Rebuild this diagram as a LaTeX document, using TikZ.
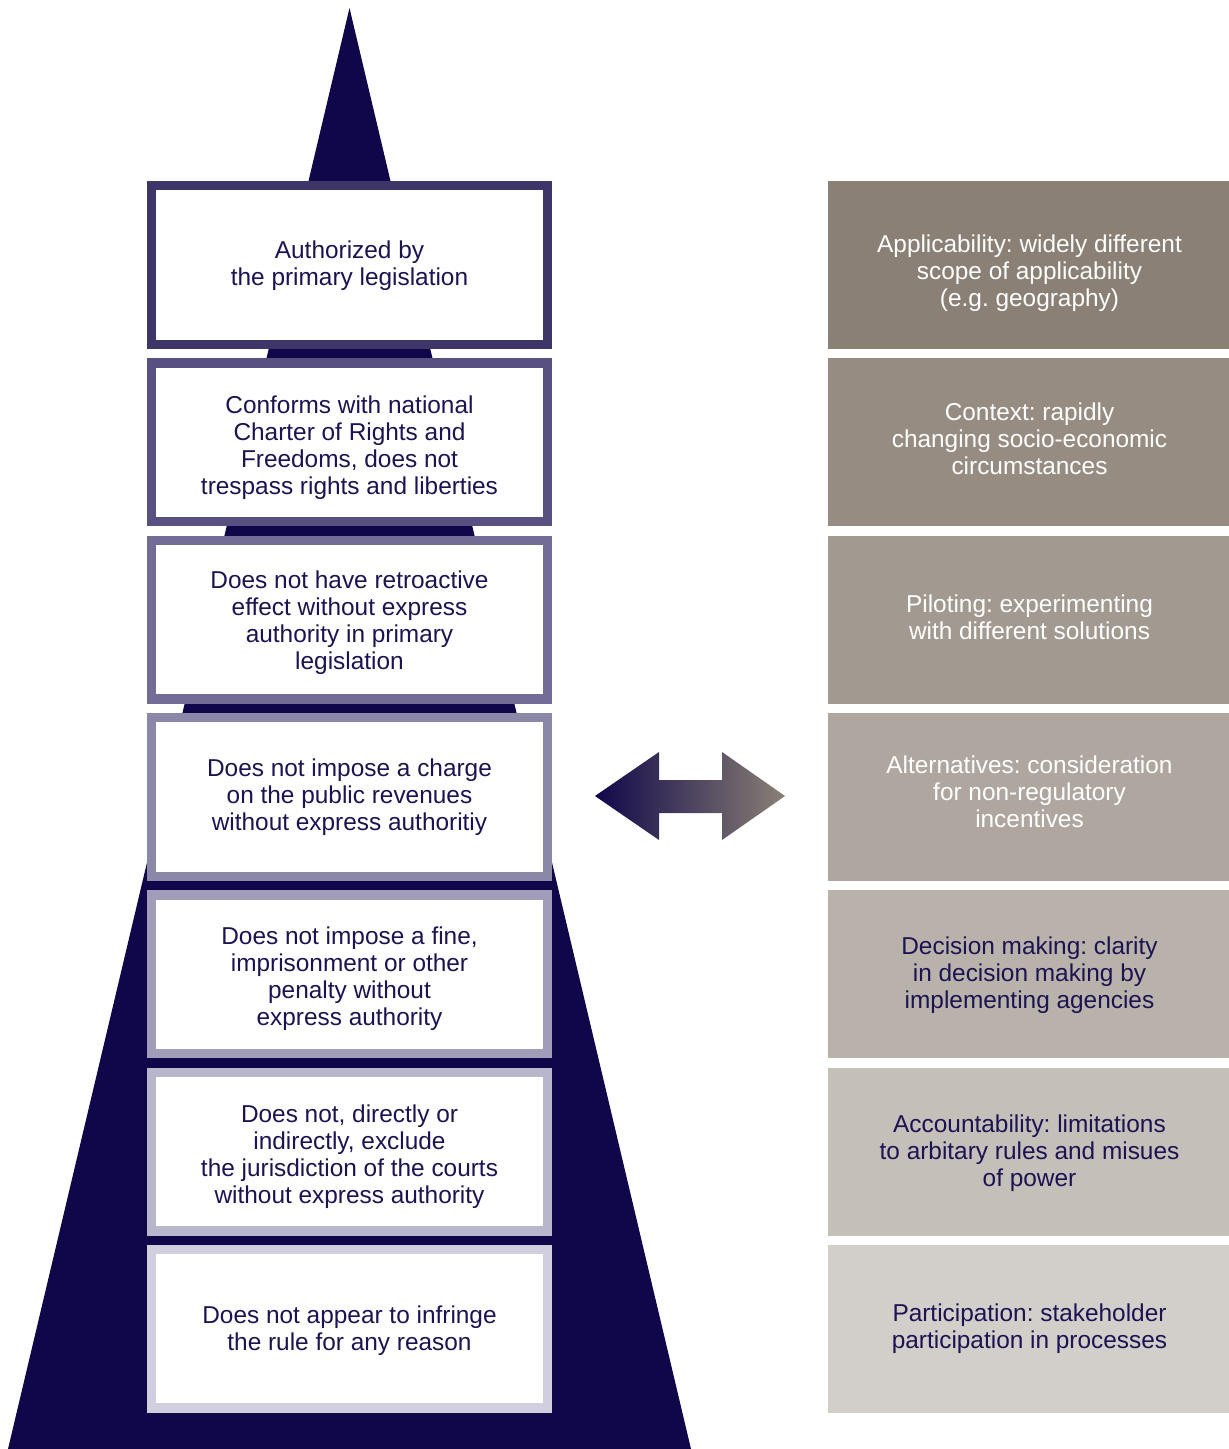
\documentclass[tikz,border=0pt]{standalone}
\usepackage{fontspec}
\setmainfont{Liberation Sans}
\usetikzlibrary{calc}
\frenchspacing

\definecolor{navy}{HTML}{10074A}
\definecolor{ink}{HTML}{1C1352}
\definecolor{rim1}{HTML}{3E3669}
\definecolor{rim2}{HTML}{575080}
\definecolor{rim3}{HTML}{726C96}
\definecolor{rim4}{HTML}{8B87A9}
\definecolor{rim5}{HTML}{A19DB9}
\definecolor{rim6}{HTML}{B8B6CB}
\definecolor{rim7}{HTML}{D1CFDF}
\definecolor{sand1}{HTML}{8A8075}
\definecolor{sand2}{HTML}{968C82}
\definecolor{sand3}{HTML}{A29A91}
\definecolor{sand4}{HTML}{AEA69F}
\definecolor{sand5}{HTML}{B9B2AB}
\definecolor{sand6}{HTML}{C4BFB9}
\definecolor{sand7}{HTML}{D2CEC9}

\begin{document}
\begin{tikzpicture}[x=0.5pt, y=-0.5pt,
		every node/.style={font=\fontsize{12.2}{13.5}\selectfont, align=center},
		rule/.style={draw=#1, fill=white, line width=4.7pt,
			minimum width=198pt, minimum height=79.3pt, inner sep=0pt},
		aspect/.style={fill=#1, minimum width=200.5pt, minimum height=84pt, inner sep=0pt},
		say/.style={text=#1, inner sep=0pt}]
		\useasboundingbox (0, 0) rectangle (1229, 1449);

		% pyramid
		\coordinate (apex) at (349.5, 8);
		\coordinate (baseL) at (8, 1449);
		\coordinate (baseR) at (691, 1449);
		\fill[navy] (apex) -- (baseR) -- (baseL) -- cycle;

		% left column
		\node[rule=rim1] (r1) at (349.5, 265) {};
		\node[rule=rim2] (r2) at (349.5, 442.3) {};
		\node[rule=rim3] (r3) at (349.5, 619.6) {};
		\node[rule=rim4] (r4) at (349.5, 796.9) {};
		\node[rule=rim5] (r5) at (349.5, 974.2) {};
		\node[rule=rim6] (r6) at (349.5, 1151.5) {};
		\node[rule=rim7] (r7) at (349.5, 1328.8) {};

		\node[say=ink] (r1t) at (349.5, 266) {Authorized by\\the primary legislation};
		\node[say=ink] (r2t) at (349.5, 447.3) {Conforms with national\\Charter of Rights and\\Freedoms, does not\\trespass rights and liberties};
		\node[say=ink] (r3t) at (349.5, 622.6) {Does not have retroactive\\effect without express\\authority in primary\\legislation};
		\node[say=ink] (r4t) at (349.5, 796.9) {Does not impose a charge\\on the public revenues\\without express authoritiy};
		\node[say=ink] (r5t) at (349.5, 978.2) {Does not impose a fine,\\imprisonment or other\\penalty without\\express authority};
		\node[say=ink] (r6t) at (349.5, 1157) {Does not, directly or\\indirectly, exclude\\the jurisdiction of the courts\\without express authority};
		\node[say=ink] (r7t) at (349.5, 1330.8) {Does not appear to infringe\\the rule for any reason};

		% right column
		\node[aspect=sand1] (a1) at (1028.5, 265) {};
		\node[aspect=sand2] (a2) at (1028.5, 442.3) {};
		\node[aspect=sand3] (a3) at (1028.5, 619.6) {};
		\node[aspect=sand4] (a4) at (1028.5, 796.9) {};
		\node[aspect=sand5] (a5) at (1028.5, 974.2) {};
		\node[aspect=sand6] (a6) at (1028.5, 1151.5) {};
		\node[aspect=sand7] (a7) at (1028.5, 1328.8) {};

		\node[say=white] (a1t) at (1029.5, 273) {Applicability: widely different\\scope of applicability\\(e.g. geography)};
		\node[say=white] (a2t) at (1029.5, 438.8) {Context: rapidly\\changing socio-economic\\circumstances};
		\node[say=white] (a3t) at (1029.5, 617.6) {Piloting: experimenting\\with different solutions};
		\node[say=white] (a4t) at (1029.5, 791.9) {Alternatives: consideration\\for non-regulatory\\incentives};
		\node[say=ink] (a5t) at (1029.5, 975.2) {Decision making: clarity\\in decision making by\\implementing agencies};
		\node[say=ink] (a6t) at (1029.5, 1153.5) {Accountability: limitations\\to arbitary rules and misues\\of power};
		\node[say=ink] (a7t) at (1029.5, 1328.8) {Participation: stakeholder\\participation in processes};

		% double arrow
		\shade[left color=navy, right color=sand1]
			(595, 796) -- (659, 752) -- (659, 780) -- (722, 780) -- (722, 752) -- (785, 796)
			-- (722, 840) -- (722, 813) -- (659, 813) -- (659, 840) -- cycle;
\end{tikzpicture}
\end{document}
